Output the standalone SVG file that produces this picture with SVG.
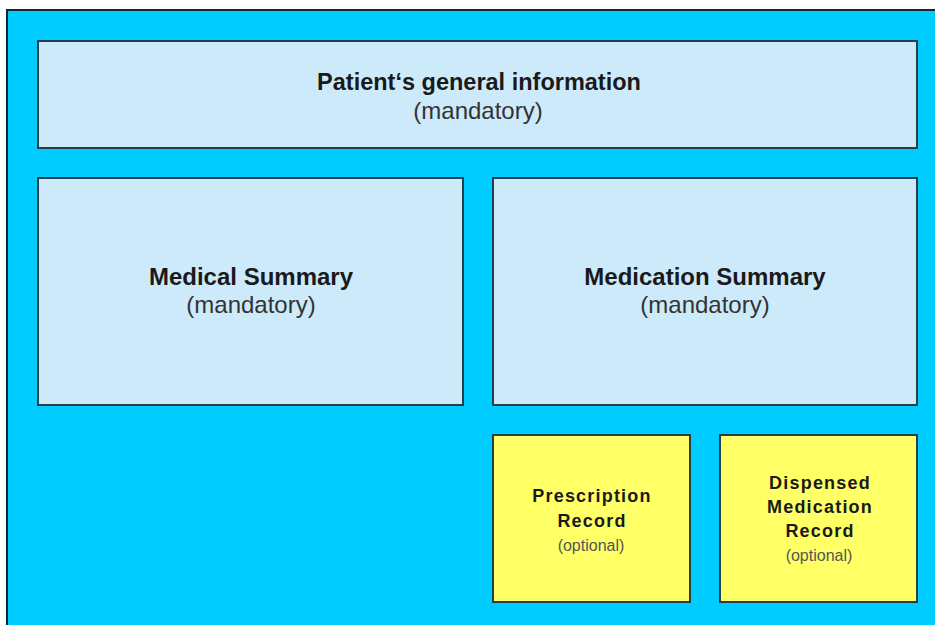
<svg xmlns="http://www.w3.org/2000/svg" width="935" height="625" viewBox="0 0 935 625">
<style>
.box{stroke:#22404c;stroke-width:2}
.blue{fill:#cdeafb}
.yel{fill:#ffff66}
.t{font-family:"Liberation Sans",Arial,sans-serif;text-anchor:middle;fill:#1a1a1a}
.b{font-weight:bold}
.n{fill:#333}
.big{font-size:24px}
.sm{font-size:18px;letter-spacing:1.2px}
.opt{font-size:16px;fill:#555}
</style>
<rect x="0" y="0" width="935" height="625" fill="#ffffff"/>
<rect x="7" y="10" width="940" height="630" fill="#00ccff" stroke="#0b2a36" stroke-width="2"/>
<g id="patient">
<rect class="box blue" x="38" y="41" width="879" height="107"/>
<text class="t b" x="479" y="90" font-size="23.5">Patient‘s general information</text>
<text class="t n big" x="478" y="119">(mandatory)</text>
</g>
<g id="medical">
<rect class="box blue" x="38" y="178" width="425" height="227"/>
<text class="t b big" x="251" y="285">Medical Summary</text>
<text class="t n big" x="251" y="313">(mandatory)</text>
</g>
<g id="medication">
<rect class="box blue" x="493" y="178" width="424" height="227"/>
<text class="t b big" x="705" y="285">Medication Summary</text>
<text class="t n big" x="705" y="313">(mandatory)</text>
</g>
<g id="prescription">
<rect class="box yel" x="493" y="435" width="197" height="167"/>
<text class="t b sm" x="592" y="502">Prescription</text>
<text class="t b sm" x="592" y="527">Record</text>
<text class="t opt" x="591" y="551">(optional)</text>
</g>
<g id="dispensed">
<rect class="box yel" x="720" y="435" width="197" height="167"/>
<text class="t b sm" x="820" y="489">Dispensed</text>
<text class="t b sm" x="820" y="513">Medication</text>
<text class="t b sm" x="820" y="537">Record</text>
<text class="t opt" x="819" y="561">(optional)</text>
</g>
<g id="connectors"></g>
</svg>
